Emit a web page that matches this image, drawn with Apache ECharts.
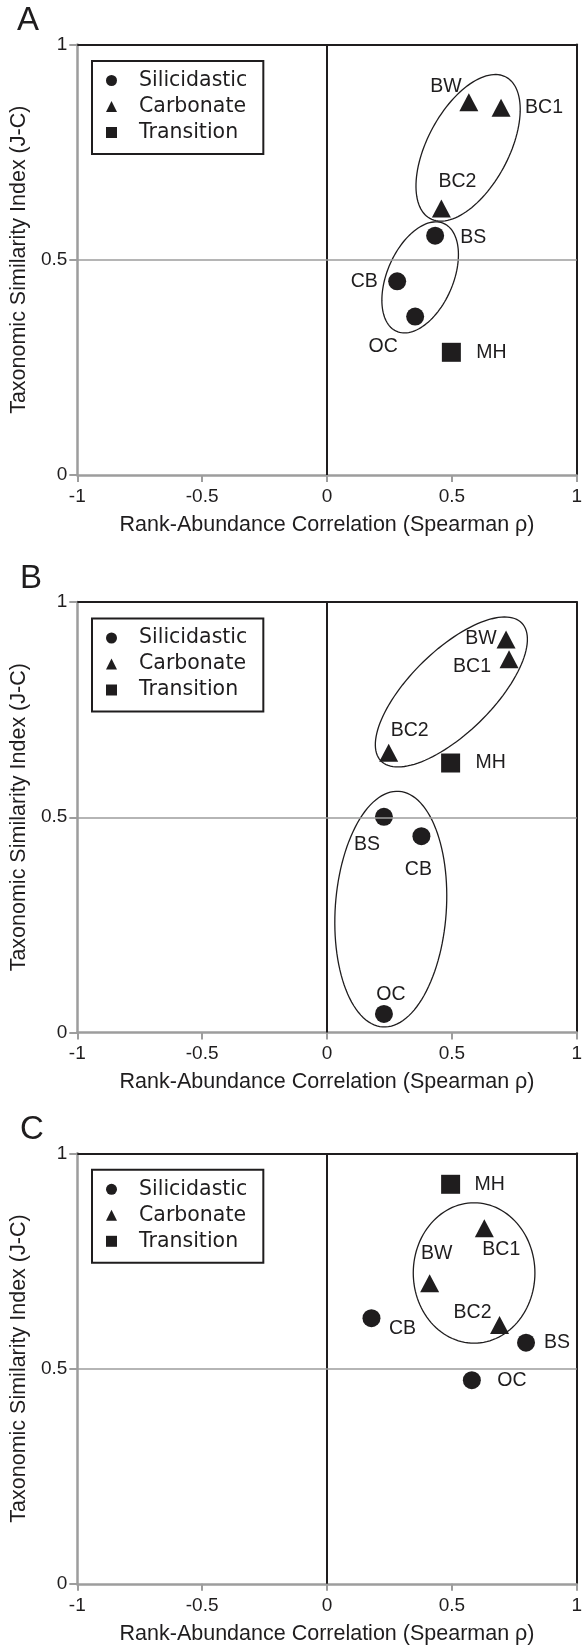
<!DOCTYPE html>
<html><head><meta charset="utf-8">
<script src="https://cdn.jsdelivr.net/npm/echarts@6/dist/echarts.min.js"></script>
<style>html,body{margin:0;padding:0;background:#fff}#c{width:585px;height:1647px}</style>
</head><body><div id="c"></div>
<script>
// ---------- data ----------
const panelLetters = ['A', 'B', 'C'];
const sites = ['BW', 'BC1', 'BC2', 'BS', 'CB', 'OC', 'MH'];
const siteType = ['Carbonate', 'Carbonate', 'Carbonate', 'Silicidastic', 'Silicidastic', 'Silicidastic', 'Transition'];
const typeNames = ['Silicidastic', 'Carbonate', 'Transition'];

// Rank-abundance correlation (Spearman rho) and J-C similarity, per panel, in `sites` order
const rhoA = [0.568, 0.697, 0.458, 0.433, 0.281, 0.353, 0.498];
const jcA  = [0.866, 0.853, 0.619, 0.556, 0.450, 0.368, 0.285];
const rhoB = [0.717, 0.729, 0.247, 0.228, 0.378, 0.228, 0.495];
const jcB  = [0.913, 0.867, 0.650, 0.501, 0.456, 0.043, 0.626];
const rhoC = [0.411, 0.630, 0.691, 0.797, 0.178, 0.580, 0.495];
const jcC  = [0.698, 0.826, 0.601, 0.560, 0.617, 0.473, 0.928];

// grouping ellipses: [centreRho, centreJC, axis1dRho, axis1dJC, axis2dRho, axis2dJC] (data units)
const ellipsesA = [[0.565, 0.760, 0.153, 0.164, 0.142, -0.046], [0.373, 0.459, 0.0954, 0.125, 0.120, -0.0318]];
const ellipsesB = [[0.498, 0.791, 0.2827, 0.1597, 0.1132, -0.0696], [0.2554, 0.2866, 0.0327, 0.2736, 0.2218, -0.0092]];
const ellipsesC = [[0.589, 0.722, 0.0, 0.163, 0.2436, 0.0]];

const xTicks = [-1, -0.5, 0, 0.5, 1];
const xTickLabels = ['-1', '-0.5', '0', '0.5', '1'];
const yTicks = [0, 0.5, 1];
const yTickLabels = ['0', '0.5', '1'];
const refLineRho = [0];
const refLineJC = [0.5];

const xTitle = 'Rank-Abundance Correlation (Spearman ρ)';
const yTitle = 'Taxonomic Similarity Index (J-C)';

// ---------- layout / style (not data) ----------
const panelTop = [44.5, 602, 1153.3];
const plotH = 430.5, plotLeft = 76.5, plotW = 507.4;
const letterPos = [[17, 4], [20, 562], [20, 1113]];
const labelOffsets = [
  { BW: [-23, -16], BC1: [43, 0], BC2: [16, -27], BS: [38, 2], CB: [-33, 0], OC: [-32, 30], MH: [40, 0] },
  { BW: [-25, -1], BC1: [-37, 7], BC2: [21, -22], BS: [-17, 28], CB: [-3, 33], OC: [7, -19], MH: [40, 0] },
  { BW: [7, -30], BC1: [17, 21], BC2: [-27, -12], BS: [31, 0], CB: [31, 10], OC: [40, 0], MH: [39, 0] }
];
const symbolFor = { Silicidastic: 'circle', Carbonate: 'triangle', Transition: 'rect' };
const symbolSizeFor = { Silicidastic: 18, Carbonate: [19, 18], Transition: 19 };
const INK = '#1f1d1e', GRAY = '#9d9d9d';
const FONT = 'Liberation Sans';

const rhos = [rhoA, rhoB, rhoC];
const jcs = [jcA, jcB, jcC];
const ellipses = [ellipsesA, ellipsesB, ellipsesC];

const grid = [], xAxis = [], yAxis = [], series = [], legend = [], title = [];

panelLetters.forEach((L, p) => {
  grid.push({ left: plotLeft, top: panelTop[p], width: plotW, height: plotH, containLabel: false });
  title.push({ text: L, left: letterPos[p][0], top: letterPos[p][1], padding: 0,
    textStyle: { fontFamily: FONT, fontSize: 33, fontWeight: 'normal', color: INK } });

  // bottom x axis
  xAxis.push({
    type: 'value', gridIndex: p, min: xTicks[0], max: xTicks[xTicks.length - 1], interval: xTicks[1] - xTicks[0],
    position: 'bottom',
    name: xTitle, nameLocation: 'middle', nameGap: 39,
    nameTextStyle: { fontFamily: FONT, fontSize: 21.5, color: INK },
    axisLine: { show: true, onZero: false, lineStyle: { color: GRAY, width: 2.5 } },
    axisTick: { show: true, inside: false, length: 7, lineStyle: { color: GRAY, width: 2 } },
    axisLabel: { margin: 12, fontFamily: FONT, fontSize: 19, color: INK,
      formatter: v => { const i = xTicks.findIndex(t => Math.abs(t - v) < 1e-9); return i >= 0 ? xTickLabels[i] : ''; } },
    splitLine: { show: false }
  });
  // top frame
  xAxis.push({
    type: 'value', gridIndex: p, min: xTicks[0], max: xTicks[xTicks.length - 1], position: 'top',
    axisLine: { show: true, onZero: false, lineStyle: { color: INK, width: 2 } },
    axisTick: { show: false }, axisLabel: { show: false }, splitLine: { show: false }
  });
  // left y axis
  yAxis.push({
    type: 'value', gridIndex: p, min: yTicks[0], max: yTicks[yTicks.length - 1], interval: yTicks[1] - yTicks[0],
    position: 'left',
    name: yTitle, nameLocation: 'middle', nameGap: 44, nameRotate: 90,
    nameTextStyle: { fontFamily: FONT, fontSize: 21.5, color: INK },
    axisLine: { show: true, onZero: false, lineStyle: { color: GRAY, width: 2.5 } },
    axisTick: { show: true, inside: false, length: 8, lineStyle: { color: GRAY, width: 2 } },
    axisLabel: { margin: 10, fontFamily: FONT, fontSize: 19, color: INK,
      formatter: v => { const i = yTicks.findIndex(t => Math.abs(t - v) < 1e-9); return i >= 0 ? yTickLabels[i] : ''; } },
    splitLine: { show: false }
  });
  // right frame
  yAxis.push({
    type: 'value', gridIndex: p, min: yTicks[0], max: yTicks[yTicks.length - 1], position: 'right',
    axisLine: { show: true, onZero: false, lineStyle: { color: INK, width: 2 } },
    axisTick: { show: false }, axisLabel: { show: false }, splitLine: { show: false }
  });

  const xi = p * 2, yi = p * 2;

  // reference lines + ellipses
  series.push({
    type: 'custom', name: 'groups' + L, xAxisIndex: xi, yAxisIndex: yi, z: 1, silent: true,
    encode: { x: 0, y: 1 },
    data: ellipses[p],
    renderItem: function (params, api) {
      const cx = api.value(0), cy = api.value(1), ax = api.value(2), ay = api.value(3), bx = api.value(4), by = api.value(5);
      const pts = [];
      const N = 120;
      for (let i = 0; i < N; i++) {
        const t = i / N * Math.PI * 2;
        pts.push(api.coord([cx + ax * Math.cos(t) + bx * Math.sin(t), cy + ay * Math.cos(t) + by * Math.sin(t)]));
      }
      return { type: 'polygon', shape: { points: pts }, style: { fill: 'none', stroke: INK, lineWidth: 1.3 } };
    },
    markLine: {
      silent: true, symbol: ['none', 'none'], label: { show: false }, animation: false,
      data: [
        ...refLineRho.map(v => ({ xAxis: v, lineStyle: { color: INK, width: 2, type: 'solid' } })),
        ...refLineJC.map(v => ({ yAxis: v, lineStyle: { color: GRAY, width: 1.6, type: 'solid' } }))
      ]
    }
  });

  typeNames.forEach(tn => {
    const data = [];
    sites.forEach((s, i) => {
      if (siteType[i] !== tn) return;
      data.push({ name: s, value: [rhos[p][i], jcs[p][i]], label: { offset: labelOffsets[p][s] } });
    });
    series.push({
      type: 'scatter', name: tn, xAxisIndex: xi, yAxisIndex: yi, z: 3,
      symbol: symbolFor[tn], symbolSize: symbolSizeFor[tn],
      itemStyle: { color: INK, opacity: 1 },
      label: { show: true, position: 'inside', formatter: '{b}', color: INK, fontFamily: FONT, fontSize: 19.5 },
      data: data
    });
  });

  legend.push({
    orient: 'vertical', left: 92, top: panelTop[p] + 16.5,
    data: typeNames.map(tn => ({ name: tn, icon: symbolFor[tn] })),
    itemWidth: 11, itemHeight: 11, itemGap: 5,
    padding: [9, 16, 11, 14],
    borderColor: INK, borderWidth: 2,
    selectedMode: false,
    textStyle: { fontFamily: 'DejaVu Sans', fontSize: 20.5, color: INK, padding: [0, 0, 0, 17] }
  });
});

const chart = echarts.init(document.getElementById('c'), null, { renderer: 'canvas' });
chart.setOption({
  animation: false,
  backgroundColor: '#fff',
  title: title, grid: grid, xAxis: xAxis, yAxis: yAxis, legend: legend, series: series
});
</script></body></html>
